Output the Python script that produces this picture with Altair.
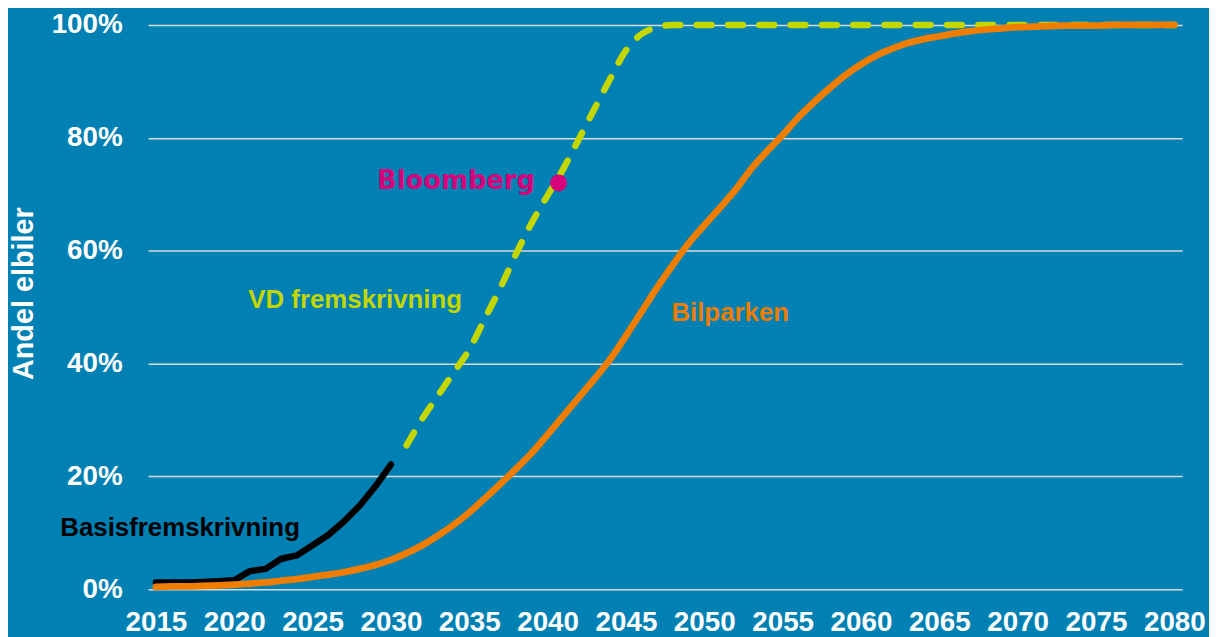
import altair as alt
import pandas as pd

# ---- data ----
years_basis = list(range(2015, 2031))
basis = [1.2, 1.2, 1.2, 1.3, 1.4, 1.6, 3.2, 3.6, 5.4, 6.0, 7.8, 9.6, 12.0, 14.8, 18.2, 22.1]

years_vd = list(range(2031, 2081))
vd = [25.5, 30.2, 34.3, 38.4, 42.5, 48.0, 53.5, 59.5, 65.0, 69.8, 74.5, 79.8, 85.2,
      90.5, 95.5, 98.4, 99.6] + [100.0] * 33

years_bil = list(range(2015, 2081))
bil = [0.4, 0.5, 0.5, 0.6, 0.7, 0.8, 1.0, 1.2, 1.5, 1.8,
       2.2, 2.6, 3.0, 3.6, 4.3, 5.2, 6.4, 7.8, 9.5, 11.4,
       13.6, 16.1, 18.7, 21.4, 24.2, 27.4, 30.7, 34.0, 37.3, 40.8,
       44.9, 49.2, 53.5, 57.5, 61.3, 64.5, 67.6, 70.8, 74.5, 77.6,
       80.5, 83.6, 86.3, 88.8, 91.1, 93.0, 94.6, 95.8, 96.8, 97.5,
       98.0, 98.5, 98.9, 99.2, 99.4, 99.6, 99.7, 99.8, 99.9, 99.9,
       99.9, 100.0, 100.0, 100.0, 100.0, 100.0]

bloomberg_year = [2040.7]
bloomberg_value = [72.0]

x_ticks = list(range(2015, 2081, 5))
y_ticks = [0, 20, 40, 60, 80, 100]

BG = "#0080B3"
GREEN = "#C4D600"
ORANGE = "#EE7D00"
MAGENTA = "#D6007B"
FONT = "Liberation Sans"

df_basis = pd.DataFrame({"year": years_basis, "v": basis})
df_vd = pd.DataFrame({"year": years_vd, "v": vd})
df_bil = pd.DataFrame({"year": years_bil, "v": bil})
df_bb = pd.DataFrame({"year": bloomberg_year, "v": bloomberg_value})

xscale = alt.Scale(domain=[2014.5, 2080.5], nice=False, zero=False)
yscale = alt.Scale(domain=[0, 100], nice=False)

x_axis = alt.Axis(values=x_ticks, format="d", title=None, grid=False, domain=False,
                  ticks=False, tickSize=0, labelFontSize=28, labelFont=FONT,
                  labelFontWeight="bold", labelColor="white", labelPadding=20,
                  labelOverlap=False, labelFlush=False)
y_axis = alt.Axis(values=y_ticks, labelExpr="datum.value + '%'", title="Andel elbiler",
                  grid=True, gridColor="#D9D9D9", gridWidth=1.7, domain=False,
                  ticks=False, tickSize=0, labelFontSize=28, labelFont=FONT,
                  labelFontWeight="bold", labelColor="white", labelPadding=26,
                  titleFontSize=29, titleFont=FONT, titleFontWeight="bold",
                  titleColor="white", titleAngle=270, titleAlign="center",
                  titleBaseline="middle", titleX=-125, titleY=270)

X = alt.X("year:Q", scale=xscale, axis=x_axis)
Y = alt.Y("v:Q", scale=yscale, axis=y_axis)

vd_line = alt.Chart(df_vd).mark_line(color=GREEN, strokeWidth=6.5, strokeDash=[15, 16.5],
                                     strokeCap="round", interpolate="monotone").encode(x=X, y=Y)
basis_line = alt.Chart(df_basis).mark_line(color="black", strokeWidth=6.5, strokeCap="round",
                                           strokeJoin="round").encode(x="year:Q", y="v:Q")
bil_line = alt.Chart(df_bil).mark_line(color=ORANGE, strokeWidth=6.8, strokeCap="round",
                                       interpolate="monotone").encode(x="year:Q", y="v:Q")
bb_point = alt.Chart(df_bb).mark_circle(color=MAGENTA, size=290, opacity=1).encode(
    x="year:Q", y="v:Q")

def label(text, x, y, color, align="left", font=FONT, size=26):
    d = pd.DataFrame({"year": [x], "v": [y], "t": [text]})
    return alt.Chart(d).mark_text(align=align, baseline="alphabetic", font=font,
                                  fontSize=size, fontWeight="bold", color=color).encode(
        x="year:Q", y="v:Q", text="t:N")

lab_basis = label("Basisfremskrivning", 2008.9, 9.5, "black")
lab_vd = label("VD fremskrivning", 2020.9, 49.9, GREEN)
lab_bil = label("Bilparken", 2047.9, 47.5, ORANGE)
lab_bb = label("Bloomberg", 2039.2, 71.0, MAGENTA, align="right", font="DejaVu Sans")

chart = alt.layer(vd_line, basis_line, bil_line, bb_point,
                  lab_basis, lab_vd, lab_bil, lab_bb).properties(
    width=1041, height=568,
    autosize=alt.AutoSizeParams(type="none"),
    padding={"left": 141, "top": 15, "right": 27, "bottom": 46},
    background=BG,
).configure_view(stroke=None)

chart.save("out.html", embed_options={"renderer": "svg", "actions": False})
